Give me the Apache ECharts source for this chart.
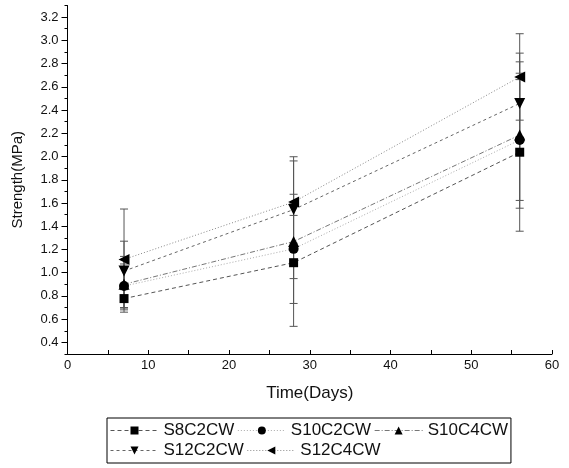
<!DOCTYPE html>
<html>
<head>
<meta charset="utf-8">
<script src="https://cdn.jsdelivr.net/npm/echarts@6/dist/echarts.min.js"></script>
<style>html,body{margin:0;padding:0;background:#fff;}#c{width:569px;height:468px;}</style>
</head>
<body>
<div id="c"></div>
<script>
// ---- data ----
const days = [7, 28, 56];
const seriesNames = ['S8C2CW', 'S10C2CW', 'S10C4CW', 'S12C2CW', 'S12C4CW'];
const S8C2CW = [0.777, 1.086, 2.037];
const S10C2CW = [0.885, 1.205, 2.142];
const S10C4CW = [0.900, 1.268, 2.185];
const S12C2CW = [1.014, 1.543, 2.457];
const S12C4CW = [1.114, 1.608, 2.685];
const S8C2CW_err = [0.077, 0.137, 0.68];
const S10C2CW_err = [0.19, 0.47, 0.52];
const S10C4CW_err = [0.24, 0.73, 0.63];
const S12C2CW_err = [0.257, 0.05, 0.433];
const S12C4CW_err = [0.434, 0.354, 0.372];
const xTicks = [0, 10, 20, 30, 40, 50, 60];
const yTickLabels = [0.4, 0.6, 0.8, 1.0, 1.2, 1.4, 1.6, 1.8, 2.0, 2.2, 2.4, 2.6, 2.8, 3.0, 3.2];
const yMinorTicks = [0.3, 0.5, 0.7, 0.9, 1.1, 1.3, 1.5, 1.7, 1.9, 2.1, 2.3, 2.5, 2.7, 2.9, 3.1, 3.3];

const values = [S8C2CW, S10C2CW, S10C4CW, S12C2CW, S12C4CW];
const errors = [S8C2CW_err, S10C2CW_err, S10C4CW_err, S12C2CW_err, S12C4CW_err];

// ---- styles ----
const symbols = ['rect', 'circle', 'triangle', 'triangle', 'triangle'];
const rotations = [0, 0, 0, 180, 90];
const sizes = [9, 10, 11, 11, 11];
const lineColors = ['#555', '#aaa', '#777', '#666', '#888'];
const lineTypes = [[4, 3], [1, 2], [5, 2, 1, 2], [3, 3], [1, 2]];
const FONT = 'Liberation Sans, Arial, sans-serif';

const chart = echarts.init(document.getElementById('c'), null, {renderer: 'canvas'});

const series = [];
// error bars
values.forEach((vals, i) => {
  series.push({
    type: 'custom',
    name: seriesNames[i] + '_err',
    z: 1,
    silent: true,
    data: days.map((d, k) => [d, vals[k] - errors[i][k], vals[k] + errors[i][k]]),
    renderItem: function (params, api) {
      const x = api.value(0), lo = api.value(1), hi = api.value(2);
      const pt = api.coord([x, hi]);
      const pb = api.coord([x, lo]);
      const w = 4;
      const st = {stroke: '#555', lineWidth: 1};
      return {
        type: 'group',
        children: [
          {type: 'line', shape: {x1: pt[0], y1: pt[1], x2: pb[0], y2: pb[1]}, style: st},
          {type: 'line', shape: {x1: pt[0] - w, y1: pt[1], x2: pt[0] + w, y2: pt[1]}, style: st},
          {type: 'line', shape: {x1: pb[0] - w, y1: pb[1], x2: pb[0] + w, y2: pb[1]}, style: st}
        ]
      };
    }
  });
});
// lines
values.forEach((vals, i) => {
  series.push({
    type: 'line',
    name: seriesNames[i],
    z: 3,
    data: days.map((d, k) => [d, vals[k]]),
    symbol: symbols[i],
    symbolSize: sizes[i],
    symbolRotate: rotations[i],
    showAllSymbol: true,
    itemStyle: {color: '#000'},
    lineStyle: {color: lineColors[i], width: 1, type: lineTypes[i]},
    emphasis: {disabled: true},
    animation: false
  });
});

chart.setOption({
  animation: false,
  backgroundColor: '#fff',
  grid: {left: 67.5, right: 17, top: 5.5, bottom: 114, containLabel: false},
  legend: {
    data: seriesNames,
    left: 107,
    top: 418,
    width: 400,
    orient: 'horizontal',
    padding: [4, 3],
    itemGap: 3,
    itemWidth: 48,
    itemHeight: 10,
    borderColor: '#000',
    borderWidth: 1,
    lineStyle: {width: 1},
    textStyle: {fontFamily: FONT, fontSize: 17, color: '#111'},
    selectedMode: false
  },
  xAxis: {
    type: 'value',
    min: 0, max: 60, interval: 10,
    name: 'Time(Days)',
    nameLocation: 'middle',
    nameGap: 31,
    nameTextStyle: {fontFamily: FONT, fontSize: 17, color: '#111'},
    axisLine: {show: true, lineStyle: {color: '#000', width: 1}},
    axisTick: {show: true, inside: true, length: 4, lineStyle: {color: '#000'}},
    minorTick: {show: true, splitNumber: 2, length: 4, lineStyle: {color: '#000'}},
    axisLabel: {fontFamily: FONT, fontSize: 13, color: '#111', margin: 5,
      customValues: xTicks},
    splitLine: {show: false}
  },
  yAxis: [{
    type: 'value',
    min: 0.3, max: 3.3,
    name: 'Strength(MPa)',
    nameLocation: 'middle',
    nameGap: 42,
    nameTextStyle: {fontFamily: FONT, fontSize: 15, color: '#111'},
    axisLine: {show: true, lineStyle: {color: '#000', width: 1}},
    axisTick: {show: true, length: 6, lineStyle: {color: '#000'}, customValues: yTickLabels},
    axisLabel: {fontFamily: FONT, fontSize: 13, color: '#111', margin: 9,
      customValues: yTickLabels,
      formatter: v => v.toFixed(1)},
    splitLine: {show: false}
  }, {
    type: 'value',
    min: 0.3, max: 3.3,
    position: 'left',
    offset: 0,
    axisLine: {show: false},
    axisTick: {show: true, length: 3, lineStyle: {color: '#000'}, customValues: yMinorTicks},
    axisLabel: {show: false},
    splitLine: {show: false}
  }],
  series: series
});
</script>
</body>
</html>
